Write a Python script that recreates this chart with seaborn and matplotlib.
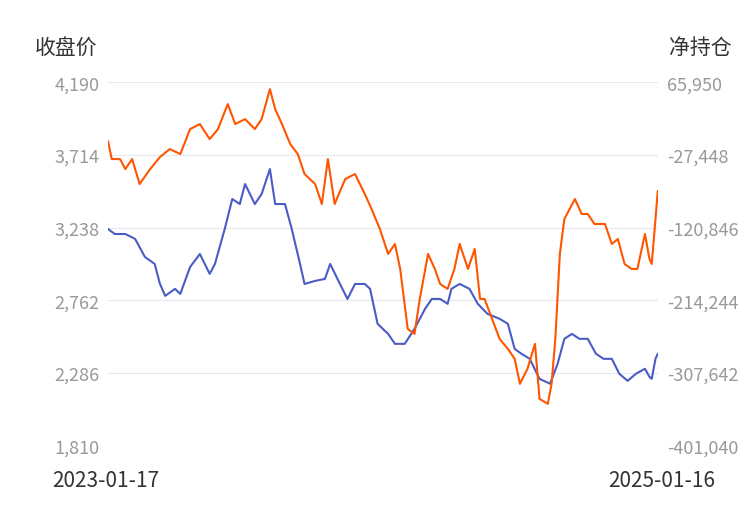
import pandas as pd
import seaborn as sns
import matplotlib.pyplot as plt

start = pd.Timestamp("2023-01-17")

# 收盘价 (left axis): days since start, value
price_days = [0, 9, 23, 36, 49, 62, 69, 76, 89, 96, 109, 122, 135, 142, 155, 165, 175, 182, 195, 204,
              215, 222, 235, 244, 255, 261, 275, 288, 295, 308, 318, 328, 341, 348, 358, 372, 381, 394,
              407, 421, 430, 441, 451, 456, 467, 480, 491, 504, 520, 531, 540, 549, 560, 573, 587, 597,
              606, 616, 626, 637, 648, 658, 669, 679, 690, 701, 713, 719, 722, 727, 730]
price = [3229, 3196, 3196, 3164, 3046, 3000, 2869, 2791, 2837, 2804, 2980, 3065, 2935, 3000, 3229, 3425,
         3392, 3523, 3392, 3458, 3621, 3392, 3392, 3229, 3000, 2869, 2889, 2902, 3000, 2869, 2771, 2869,
         2869, 2837, 2608, 2542, 2477, 2477, 2575, 2706, 2771, 2771, 2739, 2837, 2869, 2837, 2739, 2673,
         2641, 2608, 2444, 2412, 2379, 2248, 2216, 2346, 2510, 2542, 2510, 2510, 2412, 2379, 2379, 2281,
         2235, 2281, 2314, 2261, 2248, 2379, 2412]

# 净持仓 (right axis)
pos_days = [0, 5, 16, 23, 32, 42, 56, 69, 82, 96, 109, 122, 135, 146, 159, 169, 182, 195, 204, 215,
            222, 231, 242, 252, 261, 275, 284, 292, 301, 315, 328, 341, 350, 361, 372, 381, 388, 398,
            407, 414, 425, 434, 441, 451, 460, 467, 478, 487, 494, 500, 510, 520, 531, 540, 547, 557,
            567, 573, 584, 589, 594, 600, 606, 613, 620, 629, 637, 646, 660, 669, 677, 686, 695, 703,
            713, 719, 722, 727, 730]
net_pos = [-9747, -32841, -32841, -45671, -32841, -64916, -45671, -30275, -20011, -26426, 5649, 12064,
           -7181, 5649, 37724, 12064, 18479, 5649, 18479, 56969, 31309, 12064, -13596, -26426, -52086,
           -64916, -90576, -32841, -90576, -58501, -52086, -77746, -96991, -122651, -154726, -141896,
           -173971, -250951, -257366, -212461, -154726, -173971, -193216, -199631, -173971, -141896,
           -173971, -148311, -212461, -212461, -238121, -263781, -276611, -289441, -321516, -302271,
           -270196, -340761, -347176, -321516, -263781, -154726, -109821, -96991, -84161, -103406,
           -103406, -116236, -116236, -141896, -135481, -167556, -173971, -173971, -129066, -161141,
           -167556, -109821, -73897]

left_ticks = [1810, 2286, 2762, 3238, 3714, 4190]
right_ticks = [-401040, -307642, -214244, -120846, -27448, 65950]

price_df = pd.DataFrame({"date": start + pd.to_timedelta(price_days, unit="D"), "v": price})
pos_df = pd.DataFrame({"date": start + pd.to_timedelta(pos_days, unit="D"), "v": net_pos})

sns.set_style("white")
plt.rcParams['font.family'] = ['Noto Sans CJK SC', 'DejaVu Sans']

fig = plt.figure(figsize=(7.5, 5.1), dpi=100)
ax = fig.add_axes([0.144, 0.124, 0.733, 0.713])
ax2 = ax.twinx()

sns.lineplot(data=price_df, x="date", y="v", ax=ax, color="#4a5cc4", linewidth=1.5)
sns.lineplot(data=pos_df, x="date", y="v", ax=ax2, color="#ff5500", linewidth=1.5)

ax.set_ylim(1810, 4190)
ax2.set_ylim(-401040, 65950)
ax.set_yticks(left_ticks)
ax.set_yticklabels([f"{t:,}" for t in left_ticks])
ax2.set_yticks(right_ticks)
ax2.set_yticklabels([f"{t:,}" for t in right_ticks])
ax.set_xlim(start, start + pd.Timedelta(days=730))
ax.set_xticks([])
ax.grid(axis="y", color="#e6e9f0", linewidth=0.8)
for a in (ax, ax2):
    a.set_xlabel("")
    a.set_ylabel("")
    for s in a.spines.values():
        s.set_visible(False)
    a.tick_params(axis="y", length=0, labelsize=13, labelcolor="#999999")
ax.tick_params(axis="y", pad=6)
ax2.tick_params(axis="y", pad=7)

fig.text(35 / 750, 1 - 48 / 510, "收盘价", fontsize=15, color="#333333", va="center")
fig.text(732 / 750, 1 - 48 / 510, "净持仓", fontsize=15, color="#333333", va="center", ha="right")
fig.text(52 / 750, 1 - 481 / 510, "2023-01-17", fontsize=15, color="#333333", va="center")
fig.text(715 / 750, 1 - 481 / 510, "2025-01-16", fontsize=15, color="#333333", va="center", ha="right")

fig.savefig("out.png", dpi=100)
